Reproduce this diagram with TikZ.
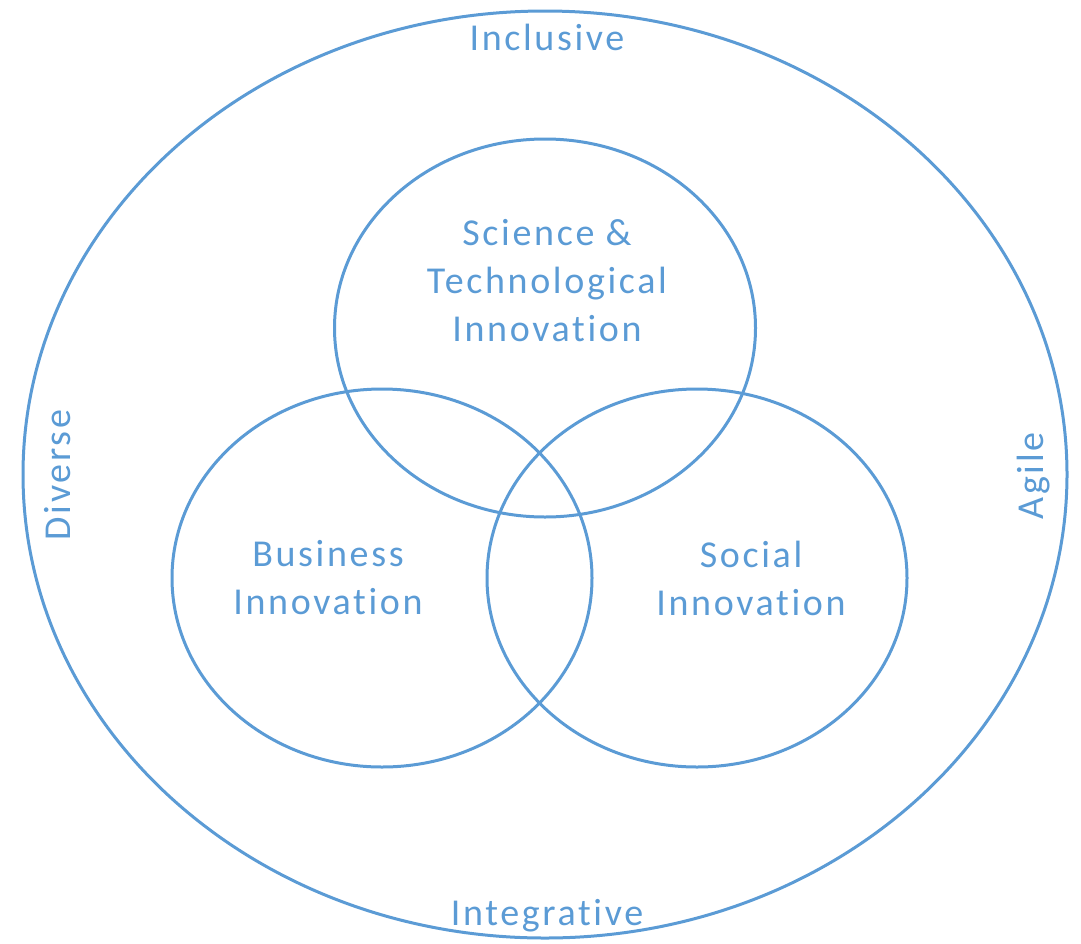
\documentclass[tikz,border=0pt]{standalone}
\usepackage{fontspec}
\setmainfont{Carlito}[LetterSpace=7,Ligatures=NoCommon,RawFeature=-liga]
\usetikzlibrary{shapes.geometric}
\definecolor{vblue}{HTML}{5B9BD5}
\begin{document}
\begin{tikzpicture}[x=1pt,y=-1pt,
  ring/.style={draw=vblue,line width=3pt,ellipse,inner sep=0pt},
  lbl/.style={text=vblue,font=\fontsize{38}{48}\selectfont,inner sep=0pt,align=center}]
\useasboundingbox (0,0) rectangle (1081,943);
\node[ring,minimum width=1044pt,minimum height=927pt] (outer) at (545,474.5) {};
\node[ring,minimum width=421pt,minimum height=378pt] (sci) at (545,328) {};
\node[ring,minimum width=420pt,minimum height=378pt] (bus) at (382,578) {};
\node[ring,minimum width=420pt,minimum height=378pt] (soc) at (697,578) {};
\node[lbl,anchor=center] (scit) at (547,281) {Science \&\\Technological\\Innovation};
\node[lbl,anchor=center] (bust) at (328,578) {Business\\Innovation};
\node[lbl,anchor=center] (soct) at (751,578) {Social\\Innovation};
\node[lbl,anchor=base] (inc) at (547,50) {Inclusive};
\node[lbl,anchor=base] (int) at (547,925) {Integrative};
\node[lbl,anchor=base,rotate=90] (div) at (70,475) {Diverse};
\node[lbl,anchor=base,rotate=90] (agi) at (1043,476) {Agile};
\end{tikzpicture}
\end{document}
